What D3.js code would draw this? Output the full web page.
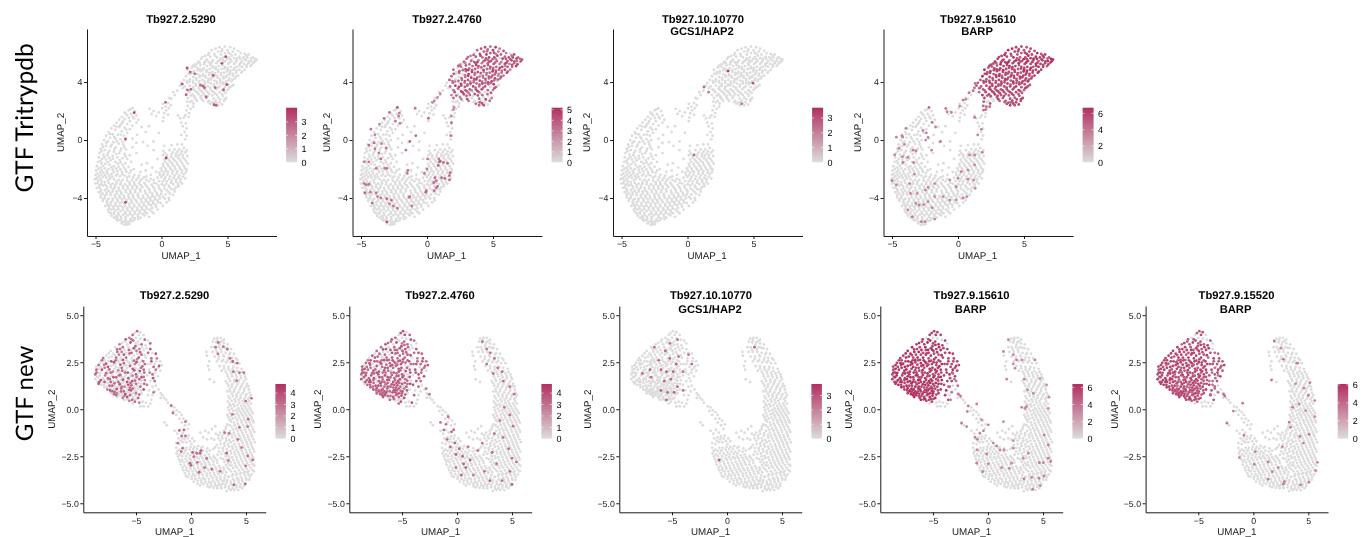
<!DOCTYPE html>
<html><head><meta charset="utf-8">
<script src="https://cdnjs.cloudflare.com/ajax/libs/d3/7.8.5/d3.min.js"></script>
<style>html,body{margin:0;padding:0;background:#fff}svg{display:block;filter:blur(.4px)}text{font-family:"Liberation Sans",Arial,sans-serif;text-rendering:geometricPrecision}</style>
</head><body><svg id="c" width="1366" height="537"></svg>
<script>
// ---------- cells shared by every panel of the top row (UMAP_1, UMAP_2 pairs)
const topLowerCells=[-2.2,2.2,-2.5,2.05,-2.0,2.0,-2.8,1.9,-2.3,1.8,-1.9,1.7,-2.6,1.7,-3.0,1.6,-2.1,1.5,-1.75,1.4,-2.8,1.45,-3.2,1.4,-2.4,1.3,-1.9,1.2,-3.4,1.2,-3.0,1.15,-2.6,1.1,-2.2,1.0,-3.6,1.0,-3.2,.9,-2.8,.85,-2.4,.75,-3.8,.8,-3.5,.7,-3.0,.6,-2.6,.5,-4.0,.55,-3.7,.4,-3.3,.35,-2.85,.3,-4.2,.3,-3.9,.15,-3.5,.1,-3.1,.05,-2.75,.0,-4.35,.0,-4.05,-.1,-3.65,-.15,-3.25,-.25,-2.9,-.3,-4.5,-.3,-4.2,-.4,-3.85,-.45,-3.45,-.5,-3.05,-.6,-2.7,-.65,-4.6,-.6,-4.3,-.7,-3.95,-.75,-3.6,-.8,-3.2,-.9,-2.8,-.95,-4.7,-.9,-4.4,-1.0,-4.1,-1.05,-3.7,-1.1,-3.35,-1.2,-2.95,-1.25,-2.6,-1.3,-4.75,-1.2,-4.5,-1.3,-4.2,-1.35,-3.85,-1.4,-3.5,-1.5,-3.1,-1.55,-2.75,-1.6,-4.8,-1.5,-4.55,-1.6,-4.25,-1.65,-3.95,-1.7,-3.6,-1.8,-3.25,-1.85,-2.85,-1.9,-2.5,-1.85,-4.9,-1.8,-4.6,-1.9,-4.3,-1.95,-4.0,-2.0,-3.7,-2.05,-3.35,-2.15,-3.0,-2.2,-2.65,-2.2,-2.3,-2.1,-4.95,-2.1,-4.65,-2.2,-4.4,-2.25,-4.1,-2.3,-3.8,-2.35,-3.45,-2.45,-3.15,-2.5,-2.8,-2.45,-2.45,-2.5,-2.05,-2.4,-1.7,-2.45,-5.0,-2.4,-4.75,-2.5,-4.45,-2.55,-4.2,-2.6,-3.9,-2.65,-3.6,-2.7,-3.25,-2.75,-2.95,-2.75,-2.6,-2.8,-2.25,-2.75,-1.9,-2.75,-1.5,-2.7,-1.15,-2.5,-5.05,-2.7,-4.8,-2.8,-4.55,-2.85,-4.3,-2.9,-4.0,-2.95,-3.7,-3.0,-3.4,-3.0,-3.1,-3.05,-2.75,-3.05,-2.4,-3.05,-2.05,-3.05,-1.7,-3.0,-1.3,-2.95,-.95,-2.85,-.6,-2.75,-5.0,-3.0,-4.7,-3.1,-4.45,-3.15,-4.15,-3.2,-3.85,-3.25,-3.55,-3.3,-3.25,-3.3,-2.9,-3.35,-2.55,-3.35,-2.2,-3.35,-1.85,-3.3,-1.45,-3.25,-1.1,-3.2,-.75,-3.1,-.4,-3.0,-4.9,-3.3,-4.6,-3.4,-4.3,-3.45,-4.0,-3.5,-3.7,-3.55,-3.4,-3.55,-3.05,-3.6,-2.7,-3.6,-2.35,-3.65,-2.0,-3.6,-1.6,-3.55,-1.25,-3.5,-.9,-3.45,-.55,-3.35,-.2,-3.3,-4.75,-3.6,-4.45,-3.7,-4.15,-3.75,-3.85,-3.8,-3.55,-3.8,-3.2,-3.85,-2.85,-3.85,-2.5,-3.9,-2.15,-3.9,-1.8,-3.85,-1.4,-3.85,-1.05,-3.8,-.7,-3.7,-.35,-3.65,0,-3.55,-4.6,-3.95,-4.3,-4.0,-4.0,-4.05,-3.7,-4.05,-3.35,-4.1,-3.0,-4.1,-2.65,-4.15,-2.3,-4.15,-1.95,-4.15,-1.55,-4.1,-1.2,-4.1,-.85,-4.0,-.5,-3.95,-.15,-3.85,-4.45,-4.2,-4.15,-4.3,-3.85,-4.3,-3.5,-4.35,-3.15,-4.35,-2.8,-4.4,-2.45,-4.4,-2.1,-4.45,-1.7,-4.4,-1.35,-4.35,-1.0,-4.3,-.65,-4.25,-.3,-4.15,-4.25,-4.55,-4.0,-4.55,-3.65,-4.6,-3.3,-4.6,-2.95,-4.65,-2.6,-4.7,-2.25,-4.7,-1.85,-4.7,-1.5,-4.65,-1.15,-4.6,-.8,-4.5,-.45,-4.45,-.05,-4.35,-4.05,-4.8,-3.8,-4.8,-3.45,-4.85,-3.1,-4.9,-2.75,-4.95,-2.4,-4.95,-2.0,-4.95,-1.65,-4.9,-1.3,-4.85,-.9,-4.8,-3.85,-5.05,-3.6,-5.1,-3.25,-5.15,-2.9,-5.15,-2.55,-5.2,-2.2,-5.2,-1.8,-5.15,-1.45,-5.1,-1.1,-5.05,-3.6,-5.35,-3.35,-5.35,-3.05,-5.4,-2.7,-5.45,-2.35,-5.45,-2.0,-5.4,-1.6,-5.35,-3.3,-5.55,-2.95,-5.65,-2.6,-5.65,-2.25,-5.6,-2.8,-5.85,-2.45,-5.8,-.95,-5.3,-.6,-5.05,-.3,-4.8,.1,-4.55,
.4,-4.3,.25,-4.05,.55,-4.0,.3,-3.75,.65,-3.7,1.0,-3.55,.4,-3.45,.75,-3.4,1.1,-3.25,.2,-3.15,.55,-3.15,.9,-3.05,1.25,-3.05,1.55,-3.0,.1,-2.85,.4,-2.85,.75,-2.8,1.1,-2.75,1.45,-2.7,1.8,-2.65,-.3,-2.6,.0,-2.55,.3,-2.55,.65,-2.5,1.0,-2.45,1.35,-2.45,1.7,-2.35,-.15,-2.25,.2,-2.25,.5,-2.2,.85,-2.15,1.2,-2.15,1.55,-2.1,1.9,-2.05,-.05,-1.95,.3,-1.95,.65,-1.9,1.0,-1.85,1.35,-1.85,1.7,-1.8,.1,-1.65,.45,-1.65,.8,-1.6,1.15,-1.55,1.5,-1.5,1.85,-1.45,.2,-1.35,.55,-1.35,.9,-1.3,1.25,-1.25,1.6,-1.2,1.95,-1.1,.1,-1.05,.4,-1.05,.75,-1.0,1.1,-.95,1.45,-.95,1.8,-.85,.15,-.75,.6,-.7,1.0,-.65,1.35,-.65,1.7,-.55,.2,-.4,.75,-.35,1.2,-.3,1.55,-.3,
-2.3,-1.5,-2.1,-2.0,-1.6,-2.2,-1.2,-2.1,-.8,-2.4,-.4,-2.2,-2.4,-1.05,-2.2,-.5,-1.9,-.9,-1.5,-1.7,-1.1,-1.6,-.7,-1.9,-2.2,.1,-1.85,.35,-1.4,-.15,-1.05,-.4,-.6,-.7,-.3,-1.3,-1.9,-.2,-1.2,.55,-1.5,.9,-.95,.95,-.6,-.1,-.2,.5,-.9,2.15,-.6,2.0,-.75,1.8,-.4,1.65,-.2,1.9,.1,2.5,.3,2.3,.05,2.2,.35,2.05,.55,2.2,.7,2.4,.2,1.85,.5,1.75,.15,1.55,.1,1.3,.5,2.55,.75,2.85,1.0,3.1,1.2,3.4,.9,3.3,.6,2.9,1.4,1.5,1.25,1.7,1.7,1.55,1.5,1.2,1.85,1.15,1.6,.95,1.9,.8,1.75,.55,1.5,.35,1.9,.3,1.8,.05,2.0,2.35,2.2,2.15,1.9,2.05,2.1,1.85,2.4,2.3,1.8,1.7,2.05,1.6];
const topLowerInfill=[-2.36,2.12,-2.71,1.82,-2.18,1.62,-2.92,1.28,-2.47,1.52,-3.12,1.02,-2.68,.72,-3.42,.93,-3.08,.38,-3.58,.22,-3.92,.42,-2.95,-.12,-3.38,-.08,-3.77,-.32,-4.18,-.18,-4.42,-.48,-3.57,-.62,-3.12,-.75,-2.82,-.48,-4.05,-.88,-4.55,-.78,-3.43,-.97,-2.72,-1.12,-3.15,-1.38,-3.95,-1.23,-4.33,-1.18,-4.62,-1.45,-3.67,-1.28,-3.32,-1.62,-2.95,-1.72,-4.08,-1.52,-4.42,-1.78,-3.78,-1.87,-3.45,-1.98,-3.12,-2.03,-2.72,-2.05,-4.78,-1.98,-4.15,-2.13,-2.42,-2.27,-3.62,-2.22,-4.52,-2.07,-4.85,-2.32,-3.97,-2.48,-3.32,-2.35,-2.97,-2.37,-2.15,-2.58,-4.58,-2.38,-4.28,-2.43,-3.73,-2.53,-2.62,-2.6,-1.78,-2.62,-1.33,-2.58,-4.9,-2.62,-4.63,-2.68,-4.05,-2.78,-3.42,-2.87,-3.08,-2.88,-2.42,-2.92,-2.08,-2.9,-1.62,-2.85,-1.15,-2.75,-.82,-2.68,-4.85,-2.97,-4.55,-3.02,-4.28,-3.08,-3.85,-3.1,-3.52,-3.15,-2.92,-3.18,-2.58,-3.2,-2.22,-3.2,-1.9,-3.18,-1.55,-3.12,-1.22,-3.07,-.58,-2.95,-4.72,-3.27,-4.15,-3.35,-3.68,-3.4,-3.2,-3.47,-2.72,-3.47,-2.38,-3.5,-1.98,-3.45,-1.62,-3.4,-.98,-3.33,-.63,-3.23,-.22,-3.15,-4.58,-3.55,-4.17,-3.62,-3.87,-3.65,-3.38,-3.7,-3.03,-3.73,-2.52,-3.75,-2.18,-3.78,-1.78,-3.72,-1.2,-3.67,-.87,-3.6,-.48,-3.52,-.08,-3.42,-4.62,-3.78,-4.3,-3.85,-3.5,-3.95,-3.15,-3.97,-2.82,-4.0,-2.45,-4.03,-2.1,-4.02,-1.72,-3.98,-1.38,-3.97,-1.02,-3.95,-.68,-3.87,-.32,-3.8,-4.42,-4.07,-4.12,-4.15,-3.72,-4.2,-3.32,-4.23,-2.98,-4.27,-2.62,-4.28,-2.25,-4.3,-1.88,-4.28,-1.52,-4.25,-1.17,-4.22,-.83,-4.15,-.5,-4.1,-.12,-4.02,-4.08,-4.43,-3.82,-4.47,-3.48,-4.5,-3.12,-4.52,-2.77,-4.55,-2.42,-4.58,-2.05,-4.58,-1.68,-4.53,-1.33,-4.5,-.97,-4.43,-.62,-4.37,-.25,-4.3,-3.95,-4.68,-3.62,-4.73,-3.27,-4.75,-2.92,-4.8,-2.57,-4.83,-2.2,-4.83,-1.83,-4.82,-1.47,-4.78,-1.12,-4.73,-.72,-4.68,-.42,-4.6,-4.0,-4.95,-3.6,-4.97,-3.28,-5.02,-2.72,-5.07,-2.38,-5.1,-2.03,-5.08,-1.65,-5.03,-1.25,-4.98,-.75,-4.93,-3.78,-5.22,-3.42,-5.25,-3.08,-5.28,-2.73,-5.32,-2.18,-5.33,-1.78,-5.28,-1.3,-5.2,-3.42,-5.47,-3.12,-5.53,-2.78,-5.58,-2.43,-5.62,-2.08,-5.52,-1.75,-5.45,-3.02,-5.75,-2.62,-5.83,-2.7,-5.72,
.58,-4.15,.12,-3.92,.88,-3.78,.52,-3.58,-.02,-3.72,.22,-3.35,.97,-3.38,.62,-3.27,1.28,-3.18,.02,-3.05,.35,-3.02,.72,-2.95,1.12,-2.9,1.42,-2.87,-.18,-2.83,.22,-2.7,.58,-2.68,.92,-2.62,1.28,-2.6,1.62,-2.52,-.12,-2.42,.12,-2.4,.45,-2.38,.82,-2.32,1.15,-2.3,1.52,-2.27,1.85,-2.22,.03,-2.12,.35,-2.1,.72,-2.03,1.05,-2.0,1.4,-1.98,1.78,-1.95,.15,-1.82,.52,-1.78,.88,-1.75,1.22,-1.7,1.6,-1.65,1.98,-1.62,.28,-1.5,.65,-1.48,1.0,-1.42,1.4,-1.37,1.75,-1.3,.4,-1.2,.72,-1.17,1.08,-1.1,1.3,-1.08,1.62,-1.02,.25,-.92,.85,-.85,1.22,-.8,1.55,-.78,1.92,-.72];
const topUpperCells=[
4.4,6.4,4.8,6.45,5.2,6.4,5.5,6.3,4.1,6.3,4.6,6.25,5.0,6.2,5.4,6.1,5.8,6.15,3.8,6.2,
4.3,6.1,4.8,6.0,5.2,5.95,3.6,6.0,4.0,5.95,4.5,5.9,5.6,5.9,6.0,6.0,6.3,5.95,6.6,5.9,
3.3,5.8,3.7,5.75,4.2,5.7,4.7,5.7,5.1,5.7,5.5,5.65,5.9,5.75,6.2,5.7,6.5,5.7,6.9,5.7,
3.0,5.6,3.45,5.55,3.9,5.5,4.4,5.5,4.85,5.45,5.3,5.45,5.7,5.5,6.1,5.45,6.4,5.5,6.8,5.45,
7.2,5.55,7.0,5.35,6.6,5.3,6.25,5.25,5.9,5.25,5.5,5.25,5.05,5.25,4.6,5.3,4.15,5.3,3.7,5.3,
3.25,5.35,2.8,5.4,2.5,5.2,2.95,5.15,3.45,5.1,3.9,5.1,4.35,5.1,4.8,5.05,5.25,5.05,5.7,5.05,
6.1,5.05,6.45,5.05,6.75,5.1,6.3,4.85,5.9,4.85,5.45,4.85,5.0,4.85,4.55,4.9,4.1,4.9,3.65,4.9,
3.2,4.95,2.75,4.95,2.3,5.0,2.0,4.85,2.45,4.75,2.95,4.75,3.4,4.7,3.85,4.7,4.3,4.7,4.75,4.65,
5.2,4.65,5.65,4.65,6.05,4.65,5.8,4.45,5.4,4.45,4.95,4.45,4.5,4.5,4.05,4.5,3.6,4.5,3.15,4.55,
2.7,4.55,2.2,4.55,1.85,4.4,2.4,4.35,2.9,4.35,3.35,4.3,3.8,4.3,4.25,4.3,4.7,4.25,5.15,4.25,
5.55,4.25,5.3,4.05,4.9,4.05,4.45,4.1,4.0,4.1,3.55,4.1,3.1,4.15,2.65,4.15,2.15,4.2,1.7,4.15,
1.5,3.95,1.95,3.95,2.4,3.95,2.85,3.95,3.3,3.9,3.75,3.9,4.2,3.9,4.65,3.85,5.05,3.85,5.45,3.8,
5.2,3.65,4.8,3.65,4.4,3.7,3.95,3.7,3.5,3.7,3.05,3.75,2.6,3.75,2.15,3.75,1.75,3.7,1.4,3.75,
1.9,3.5,2.35,3.55,2.8,3.55,3.25,3.5,3.7,3.5,4.15,3.5,4.6,3.45,5.0,3.45,4.85,3.25,4.4,3.3,
3.95,3.3,3.5,3.3,3.05,3.35,2.6,3.35,2.1,3.3,1.85,3.1,2.35,3.15,2.8,3.15,3.25,3.1,4.2,3.1,
4.65,3.05,4.9,2.9,3.4,2.9,2.95,2.95,2.5,2.95,2.0,2.9,1.95,2.65,2.3,2.7,2.7,2.7,3.15,2.7,
3.6,2.7,3.95,2.85,4.45,2.8,4.75,2.7,4.4,2.6,4.0,2.6,3.7,2.5,3.95,2.4,4.3,2.4,4.6,2.45,
4.55,6.12,5.07,6.03,5.33,5.82,4.47,5.63,3.57,5.38,4.97,5.58,5.73,5.62,6.32,5.57,6.62,5.42,7.05,5.6,
2.68,5.27,3.22,5.22,3.72,5.17,4.12,5.02,4.62,5.17,5.02,4.97,5.52,4.98,5.92,5.12,6.12,4.72,5.67,4.78,
5.22,4.78,4.77,4.93,4.28,4.83,3.87,4.98,3.42,4.82,2.93,4.88,2.57,5.07,2.22,4.68,2.72,4.82,3.13,4.83,
3.62,4.63,4.07,4.62,4.52,4.62,4.97,4.73,5.42,4.57,5.62,4.37,5.13,4.52,4.68,4.38,4.23,4.42,3.78,4.58,
3.33,4.42,2.88,4.47,2.43,4.63,2.03,4.57,2.62,4.27,3.12,4.43,3.57,4.22,3.98,4.38,4.43,4.22,4.87,4.33,
5.37,4.17,5.08,4.12,4.63,3.98,4.18,4.02,3.73,4.18,3.28,4.03,2.87,4.07,2.38,4.08,1.93,4.07,3.53,3.98,
3.07,3.83,2.58,3.87,2.13,4.03,3.98,3.82,4.43,3.93,4.83,3.93,2.42,3.67,2.87,3.67,3.23,3.78,3.68,3.62,
3.1,5.72,3.53,5.87,4.05,5.82,4.62,5.53,5.22,5.58,5.97,5.6,6.42,5.82,6.78,5.62,7.1,5.43,6.85,5.22,
6.45,5.18,6.02,5.33,5.62,5.37,5.17,5.35,4.72,5.4,4.27,5.42,3.82,5.38,3.35,5.47,2.9,5.32,2.38,5.12,
1.62,3.58,2.02,3.43,2.47,3.47,2.92,3.42,3.38,3.42,3.82,3.38,4.27,3.62,4.72,3.37,5.1,3.58,5.32,3.72,
4.58,3.17,4.08,3.2,3.62,3.17,3.17,3.23,2.72,3.27,2.22,3.07,2.48,3.02,3.0,3.05,3.48,3.03,3.85,3.08,
4.3,2.92,4.78,2.82,4.12,2.72,3.82,2.58,4.18,2.52,3.53,2.62,3.05,2.82,2.6,2.82,2.17,2.62,2.43,2.52];
// expression of the upper cells, one digit per cell per line (0 none … 9 gene maximum)
const topGene2Upper=["7685768576","6750786507","5768806786","6058760786","7065857657","0657687868","7685868606","5006768756","7685575068","0060687568","6085867607","0605868680","6075867860","0607886570","6068750766","0500560005","0686076670","6787768776","0686768576","7685786068","6768576760","0567687576","7686857666","6857668706","6786576878","7856768657","0607586070","6075860607","0000707500"];
const topGene4Upper=["8878987879","8798878978","8897889887","8879898789","9878988989","8987898887","9878889788","8879887887","8898787888","7898887888","8988788777","7788887877","8788878877","7877889778","8788798878","7877087006","7887878878","8897899889","8988789898","9888987788","8789878887","7888798878","8879887887","7887788878","8978898798","8889789878","7788878787","7878877887","7887878007"];
// sparse expressing cells of the top row: UMAP_1, UMAP_2, expression
const topGene1Sparse=[4.87,5.75,3.6,4.57,5.29,3.2,1.94,4.97,3.4,2.17,4.69,3,2.53,4.57,2.6,3.91,4.46,3.2,1.57,3.86,3.4,2.95,3.79,2.6,3.13,3.72,3,3.26,3.61,3.2,4.07,3.61,2.8,4.95,3.82,3.5,4.7,3.47,3,1.97,3.45,2.6,2.22,3.49,2.8,1.87,3.13,3,3.38,2.97,3,3.99,2.44,3.2,4.14,2.39,3.2,.3,2.6,3,-2.07,1.89,3.6,-2.73,.07,3.4,.35,-1.24,3.8,-2.73,-4.3,3.6];
const topGene2Sparse=[-2.25,2.25,4,-2.85,1.9,3,-2.1,1.85,3,-2.15,1.65,3,-3.25,1.5,3.4,-2.4,1.3,3,-2.05,1.15,3,-3.6,1.1,2.5,-4.25,.75,3,-3.95,.35,2.6,-.85,.3,3.4,-1.3,-.1,3.6,-.9,2.2,3,.1,1.5,3.4,-4.4,-.35,3.4,-3.95,-.6,3,-3.1,-.55,3.2,-3.45,-.25,3,-4,-.2,3.4,-3.5,-1.3,3.4,-3.65,-.9,3,-4.75,-1.5,3,-4.4,-1.5,3,-3.85,-1.95,3.2,-3.05,-1.95,3.6,-3.2,-1.95,3,-1.6,-.7,3,-1.45,-2.1,3.4,-1.5,-2.3,3,-.2,-2.3,3,0,-2,3,.05,-1.3,3,1,-1.45,3.6,.95,-1.5,4,.85,-1.75,3.6,1.25,-1.55,3.4,1.55,-1.6,3.4,.9,-1.3,3,.6,-2.6,3.4,.7,-2.8,3,1.1,-2.6,3.4,1.35,-2.65,3.4,1.7,-2.75,3.4,1.75,-2.25,3.6,1.7,-2.45,3.4,.8,-3.2,3.4,.5,-2.95,3,.7,-3.3,3.2,.55,-2.9,3,-.05,-3.5,3.4,-.1,-3.6,3.4,.55,-3.5,3.2,-4.75,-3,3.2,-4.6,-3.1,3,-4.4,-3.05,3.2,-4.7,-3.65,3.6,-4.3,-3.6,3,-3.85,-3.65,3.2,-3.75,-3.9,3,-3.5,-4,3,-4.15,-4.35,3.4,-3.05,-4.05,3.4,-2.7,-4.15,3.4,-2.85,-4.4,3,-2.55,-4.55,3,-2.25,-4.7,3,-1.35,-3.95,3.2,-1.15,-4.55,3,-1.3,-3.9,3,-3.05,-5.65,4,1.8,.3,3.2,1.85,1.2,3.6,1.85,1.65,2.6,2,2.1,2.6,2.05,2.25,2.6,.4,2.6,2.6,.55,2.7,2.6,1,3.2,2.6,.8,2.95,2.6];
const topGene3Sparse=[3.07,4.76,3.4,4.96,3.93,3,1.25,3.66,2.6,.5,-1.03,2.6,1.6,3.3,2.2,4.1,2.5,2.2];
const topGene4Sparse=[-2.2,2.25,4.4,-1.97,1.22,4,-1.7,.9,3.6,-3.95,.8,3.6,-2.65,.65,3.6,-2.4,.5,3.6,-4.25,.3,3.6,-4.67,.2,3.6,-4.2,.2,3.6,-2.27,.18,3.6,-1.33,-.1,4,-2.45,0,3.4,-4.05,-.3,3.4,-4.47,-.57,3.4,-3.4,-.7,3.6,-3.2,-.74,3.4,-2,-.7,3.4,-4.2,-1.15,3.4,-3.8,-1.2,3.6,-4.8,-1.03,3.6,-4.17,-1.55,3.6,-3.36,-1.55,3.6,-3.3,-2.35,3.4,-5,-2.8,3.8,-3.66,-3,3.6,-4.67,-3.1,3.4,-1.77,-3,3.4,-2.47,-3.45,3.6,-2.27,-3.27,3.4,-3.6,-3.68,3.6,-3.1,-3.68,3.2,-1.77,-3.9,3.2,-3.8,-4.83,3.6,-3.47,-5.3,4,-2.78,-5.63,3.6,-2.5,-5.63,3.4,-1.77,-5.45,3.4,-3.2,-4.37,3.4,-2.95,-4.48,3.6,-2.6,-4.46,3.4,-2.27,-4.25,3.4,-1.97,-4.67,3.4,-1.14,-3.9,3.4,-.63,-4.14,3.4,-.13,-4.14,3.4,.38,-4,3.6,.68,-3.9,3.4,-.63,-2.76,3.4,0,-2.64,3.6,-.13,-3.22,3.6,.76,-2.7,3.6,1.19,-2.76,3.4,1.3,-3.33,3.4,.25,-2.18,3.6,.76,-2.07,3.4,1.26,-1.72,3.4,.88,-1.03,3.6,1.26,-1.03,3.4,1.84,-.85,3.6,-.93,2.18,4,-.83,1.95,3.6,-.5,1.9,3.6,1.26,1.56,4,1.77,.74,3.6,1.5,.35,3.2,.13,2.34,3.2,.38,2.76,4,.58,2.8,3.6,.83,3.26,4,1.14,3.4,4,1.94,2.07,4.4,2.1,2.1,4.4,2.15,2.3,4.4,1.9,2.35,4.4,2.4,2.3,4.4,1.3,3.9,4.4,1.25,3.6,4.4,1.6,3.3,4.4];

// ---------- cells shared by every panel of the bottom row
const botLeftCells=[
-4.9,4.15,-4.6,4.1,-4.3,3.95,-5.3,3.95,-5.6,3.8,-5.0,3.8,-4.6,3.75,-4.2,3.7,-3.9,3.65,-3.7,3.5,
-6.0,3.6,-5.5,3.55,-5.0,3.5,-4.5,3.45,-4.15,3.4,-6.5,3.45,-6.9,3.3,-6.2,3.3,-5.7,3.3,-5.2,3.25,
-4.7,3.2,-4.3,3.15,-3.9,3.0,-3.5,3.0,-3.2,2.95,-7.3,3.1,-6.7,3.05,-6.3,3.05,-5.9,3.0,-5.4,3.0,
-4.9,2.95,-4.5,2.9,-4.1,2.75,-3.6,2.7,-3.1,2.7,-2.8,2.55,-7.7,2.85,-7.2,2.8,-6.8,2.75,-6.4,2.75,
-5.9,2.75,-5.4,2.7,-4.9,2.65,-4.5,2.6,-8.1,2.6,-7.5,2.55,-7.0,2.5,-6.6,2.5,-6.1,2.45,-5.6,2.45,
-5.1,2.4,-4.7,2.35,-4.2,2.4,-3.7,2.4,-3.3,2.4,-2.9,2.3,-2.65,2.35,-8.4,2.35,-7.9,2.35,-7.3,2.3,
-6.8,2.25,-6.3,2.2,-5.8,2.2,-5.3,2.15,-4.8,2.1,-4.3,2.1,-3.8,2.1,-3.2,2.1,-2.8,2.05,-8.6,2.1,
-8.1,2.1,-7.6,2.05,-7.1,2.0,-6.5,1.95,-6.0,1.95,-5.5,1.9,-5.0,1.85,-4.5,1.85,-4.0,1.8,-3.5,1.85,
-3.0,1.75,-8.7,1.85,-8.3,1.8,-7.8,1.8,-7.3,1.75,-6.8,1.7,-6.3,1.7,-5.7,1.65,-5.2,1.6,-4.7,1.6,
-4.2,1.55,-3.7,1.5,-3.3,1.5,-8.7,1.6,-8.2,1.55,-7.6,1.55,-7.1,1.5,-6.6,1.45,-6.1,1.45,-5.5,1.4,
-5.0,1.35,-4.5,1.35,-4.0,1.3,-3.5,1.2,-8.4,1.35,-7.9,1.3,-7.4,1.25,-6.9,1.25,-6.3,1.2,-5.8,1.15,
-5.3,1.1,-4.8,1.1,-4.3,1.05,-3.8,1.0,-7.6,1.05,-7.1,1.0,-6.6,.95,-6.1,.95,-5.6,.9,-5.0,.85,
-4.5,.85,-3.9,.75,-7.3,.85,-6.8,.75,-6.3,.7,-5.8,.65,-5.3,.65,-4.8,.6,-6.1,.5,-5.6,.45,
-5.1,.4,-5.3,.3,-4.7,.35,-4.4,.4,-4.1,.35,-4.3,.15,-3.9,.15,-3.7,.3,-4.6,.15,-3.6,.5,
-4.75,3.95,-5.25,3.65,-4.8,3.6,-5.8,3.45,-6.45,3.2,-5.45,3.15,-4.95,3.1,-7.05,2.95,-6.1,2.9,-5.2,2.85,
-7.85,2.6,-7.25,2.55,-6.35,2.6,-5.35,2.55,-4.35,2.55,-8.2,2.25,-7.55,2.25,-6.55,2.2,-5.55,2.3,-5.05,2.2,
-8.45,1.95,-7.3,1.95,-6.75,1.95,-5.75,1.95,-4.75,1.95,-4.25,1.95,-8.0,1.65,-7.05,1.7,-6.05,1.7,-4.95,1.7,
-8.5,1.45,-7.85,1.45,-6.85,1.45,-5.8,1.45,-5.25,1.4,-4.25,1.35,-8.15,1.3,-7.15,1.25,-6.6,1.2,-6.05,1.2,
-5.55,1.15,-5.05,1.1,-7.35,1.0,-6.85,1.0,-6.35,.95,-5.85,.9,-5.25,.85,-7.0,.8,-6.55,.75,-6.05,.7,
-5.05,3.35,-4.45,3.3,-5.65,3.15,-6.05,3.15,-6.55,2.9,-5.65,2.9,-4.75,2.75,-7.45,2.75,-6.85,2.6,-5.85,2.6,
-4.95,2.5,-7.95,2.45,-7.05,2.35,-6.05,2.3,-4.55,2.2,-8.4,2.15,-7.85,2.2,-6.95,2.15,-6.25,2.05,-5.3,2.0,
-8.6,1.95,-7.55,1.9,-6.55,1.8,-5.5,1.75,-4.5,1.7,-8.45,1.7,-7.55,1.65,-6.35,1.55,-5.35,1.5,-4.75,1.4,
-8.0,1.45,-7.3,1.45,-6.3,1.4,-5.7,1.3,-5.15,1.2,-4.6,1.2,-7.65,1.2,-6.95,1.1,-6.35,1.1,-5.75,1.0,
-5.45,1.0,-4.95,.95,-7.15,.95,-4.55,1.0,-6.75,.85,-6.25,.82,-5.55,.75,-5.05,.72,-5.35,.5,-5.85,.52,
-3.6,2.55,-3.15,2.55,-3.4,2.25,-3.0,2.2,-3.75,1.95,-3.25,1.95,-4.05,3.25,-3.7,3.2,-3.95,2.4,-3.45,1.65,
-5.12,4.05,-5.42,3.72,-4.78,3.42,-5.93,3.72,-6.27,3.52,-6.72,3.18,-5.08,3.17,-5.58,2.97,-6.92,2.88,-7.48,2.97,
-4.62,3.03,-4.22,2.87,-7.98,2.72,-6.62,2.62,-6.18,2.62,-5.72,2.52,-5.18,2.58,-4.68,2.48,-7.72,2.42,-8.28,2.47,
-6.88,2.42,-6.42,2.37,-5.88,2.35,-5.42,2.37,-4.42,2.28,-8.62,2.27,-7.42,2.12,-6.62,2.07,-5.95,2.08,-5.15,2.07,
-4.65,2.03,-8.25,1.93,-7.72,1.92,-7.15,1.85,-6.42,1.82,-5.92,1.82,-5.32,1.78,-4.85,1.78,-4.3,1.72,-8.55,1.72,
-7.92,1.55,-7.38,1.6,-6.75,1.58,-6.18,1.57,-5.62,1.55,-5.08,1.52,-4.52,1.52,-8.33,1.45,-7.58,1.4,-6.97,1.38,
-6.48,1.33,-5.93,1.32,-5.42,1.27,-4.88,1.25,-7.87,1.17,-7.3,1.12,-6.75,1.08,-6.17,1.05,-5.62,1.03,-5.12,.98,
-6.95,.92,-6.48,.85,-5.97,.8,-5.42,.82,-4.7,.78,-6.72,.65,-6.2,.6,-5.72,.55,-5.18,.55,-4.95,.55];
const botRightCells=[-3.2,1.25,-2.95,1.05,-3.3,.95,-2.75,.85,-2.6,.75,-2.45,.6,-2.25,.5,-2.75,.6,-2.1,.35,-3.5,.75,-1.75,.15,-1.5,.1,-1.6,-.1,-1.3,-.05,-1.05,-.15,-1.35,-.3,-.85,-.3,-1.05,-.5,-.7,-.5,-.45,-.6,-.85,-.7,-.55,-.85,-.2,-.8,-.3,-1.05,-2.4,-.7,-2.2,-.85,-1.5,-1.15,-1.25,-1.3,-1.0,-1.1,-.75,-1.25,-1.15,-1.55,-.85,-1.5,-.55,-1.45,-.2,-1.4,-1.35,-1.8,-1.05,-1.85,-.75,-1.75,-.45,-1.75,-.1,-1.7,.3,-1.7,-1.35,-2.05,-1.05,-2.15,-.7,-2.05,-.4,-2.05,-.05,-2.0,.3,-2.0,.65,-1.95,-1.3,-2.35,-1.0,-2.4,-.65,-2.35,-.3,-2.35,.05,-2.3,.4,-2.25,.75,-2.25,1.1,-2.2,-1.1,-2.65,-.8,-2.7,-.5,-2.65,-.15,-2.6,.2,-2.55,.55,-2.55,.9,-2.5,1.25,-2.45,1.6,-2.4,-.95,-2.95,-.6,-3.0,-.25,-2.9,.1,-2.85,.45,-2.85,.8,-2.8,1.15,-2.75,1.5,-2.7,1.85,-2.65,2.2,-2.6,-.7,-3.25,-.4,-3.25,-.05,-3.15,.3,-3.15,.65,-3.1,1.0,-3.05,1.35,-3.0,1.7,-2.95,2.05,-2.95,2.4,-2.85,-.45,-3.55,-.15,-3.45,.2,-3.45,.55,-3.4,.9,-3.35,1.25,-3.3,1.6,-3.25,1.95,-3.25,2.3,-3.2,2.65,-3.15,.05,-3.7,.4,-3.7,.75,-3.65,1.1,-3.65,1.45,-3.55,1.8,-3.55,2.15,-3.5,2.5,-3.45,2.85,-3.4,3.2,-3.35,.6,-3.95,.95,-3.9,1.3,-3.85,1.65,-3.85,2.0,-3.8,2.35,-3.75,2.7,-3.7,3.05,-3.65,3.4,-3.6,3.75,-3.55,4.1,-3.5,4.45,-3.45,4.8,-3.4,5.15,-3.35,1.5,-4.1,1.85,-4.05,2.2,-4.05,2.55,-4.0,2.9,-3.95,3.25,-3.9,3.6,-3.85,3.95,-3.8,4.3,-3.75,4.65,-3.7,5.0,-3.65,5.35,-3.6,2.4,-4.2,2.75,-4.2,3.1,-4.15,3.45,-4.1,3.8,-4.05,4.15,-4.05,4.5,-4.0,4.85,-3.95,3.25,-4.35,3.6,-4.3,3.95,-4.3,4.3,-4.3,4.65,-4.2,
5.7,-3.3,5.75,-3.0,5.4,-3.1,5.05,-3.15,4.7,-3.2,4.35,-3.25,4.0,-3.3,3.65,-3.3,3.3,-3.1,2.95,-3.1,5.45,-2.8,5.1,-2.85,4.75,-2.9,4.4,-2.95,4.05,-3.0,3.7,-3.0,3.35,-2.85,3.05,-2.8,2.7,-2.6,5.6,-2.55,5.25,-2.55,4.9,-2.6,4.55,-2.65,4.2,-2.7,3.85,-2.7,3.5,-2.6,3.15,-2.5,2.55,-2.25,5.75,-2.25,5.4,-2.3,5.05,-2.3,4.7,-2.35,4.35,-2.4,4.0,-2.4,3.65,-2.35,3.3,-2.25,2.9,-2.2,5.55,-2.0,5.2,-2.0,4.85,-2.05,4.5,-2.1,4.15,-2.15,3.8,-2.1,3.45,-2.0,3.05,-1.95,2.7,-1.85,2.35,-1.9,5.8,-1.75,5.4,-1.75,5.05,-1.75,4.7,-1.8,4.35,-1.85,3.95,-1.85,3.6,-1.75,3.2,-1.7,2.85,-1.55,2.5,-1.55,5.55,-1.45,5.2,-1.5,4.85,-1.5,4.5,-1.55,4.1,-1.55,3.75,-1.5,3.35,-1.4,3.0,-1.3,2.65,-1.25,2.25,-1.3,5.75,-1.2,5.4,-1.2,5.0,-1.2,4.65,-1.25,4.3,-1.3,3.9,-1.25,3.55,-1.15,3.15,-1.05,1.85,-1.55,1.45,-1.6,5.55,-.95,5.2,-.95,4.85,-.95,4.45,-1.0,4.1,-1.0,3.7,-.95,3.3,-.8,1.9,-1.05,1.3,-1.15,1.6,-1.25,5.7,-.7,5.35,-.7,5.0,-.7,4.6,-.7,4.25,-.75,3.9,-.7,3.5,-.55,2.2,-.9,.85,-1.25,1.1,-1.5,5.5,-.45,5.15,-.45,4.8,-.45,4.4,-.45,4.05,-.45,3.65,-.35,3.3,-.3,5.6,-.2,5.25,-.2,4.9,-.2,4.55,-.2,4.2,-.2,3.85,-.1,3.45,-.05,5.35,.05,5.0,.05,4.65,.05,4.3,.05,3.95,.15,3.6,.2,5.45,.3,5.1,.3,4.75,.3,4.4,.35,4.05,.4,3.7,.45,3.35,.4,5.2,.55,4.85,.55,4.5,.6,4.15,.65,3.8,.7,3.4,.7,5.45,.75,5.05,.8,4.7,.85,4.3,.9,3.9,.95,3.55,.95,3.3,.95,5.25,1.05,4.85,1.1,4.5,1.15,4.1,1.2,3.7,1.2,3.4,1.25,5.1,1.35,4.7,1.35,4.3,1.45,3.95,1.45,3.55,1.5,3.15,1.5,5.0,1.6,4.55,1.65,4.15,1.7,3.75,1.75,3.35,1.75,4.85,1.85,4.4,1.9,4.0,1.95,3.6,2.0,3.15,2.0,2.8,2.05,4.6,2.15,4.2,2.2,3.85,2.25,3.4,2.25,3.0,2.3,2.6,2.3,4.4,2.45,4.0,2.45,3.6,2.5,3.2,2.5,2.8,2.55,2.35,2.55,4.1,2.7,3.75,2.75,3.4,2.75,3.0,2.8,2.55,2.8,2.15,2.8,3.9,2.95,3.55,3.0,3.15,3.0,2.75,3.05,2.35,3.05,1.95,3.05,3.65,3.2,3.3,3.25,2.9,3.3,2.55,3.3,2.15,3.3,1.85,3.3,3.35,3.45,3.0,3.5,2.65,3.55,2.3,3.55,2.0,3.6,3.0,3.7,2.7,3.8,2.4,3.8,2.1,3.75,1.4,3.05,1.65,2.55,1.7,1.6,1.65,2.1,1.45,2.85,1.55,2.3,2.1,1.45];
const botRightInfill=[2.35,3.67,2.82,3.62,2.58,3.42,3.12,3.27,2.72,3.18,2.27,3.17,3.48,2.92,2.93,2.88,2.5,2.67,2.92,2.62,3.35,2.62,3.75,2.58,4.23,2.62,3.02,2.17,3.42,2.12,3.78,2.12,4.22,2.03,4.68,1.98,3.28,1.88,3.68,1.87,4.08,1.83,4.52,1.77,4.92,1.72,3.48,1.62,3.93,1.58,4.38,1.55,4.82,1.48,5.22,1.22,3.28,1.38,3.75,1.33,4.22,1.33,4.6,1.25,5.02,1.22,3.52,1.08,3.95,1.07,4.42,1.03,4.82,.97,5.33,.88,3.72,.83,4.13,.78,4.52,.73,4.95,.68,5.33,.62,3.52,.58,3.97,.53,4.33,.5,4.68,.45,5.28,.42,3.5,.28,3.85,.27,4.22,.22,4.55,.18,4.88,.17,5.22,.18,3.38,.1,3.72,.03,4.1,-.05,4.42,-.08,4.78,-.08,5.12,-.08,5.48,-.07,3.55,-.2,3.98,-.28,4.32,-.33,4.68,-.32,5.02,-.33,5.38,-.32,3.4,-.42,3.78,-.5,4.2,-.58,4.55,-.58,4.88,-.58,5.25,-.58,5.6,-.58,3.62,-.65,3.98,-.85,4.35,-.87,4.72,-.83,5.08,-.83,5.43,-.83,3.18,-.92,3.5,-.85,3.85,-1.08,4.22,-1.13,4.55,-1.12,4.92,-1.08,5.28,-1.08,5.65,-1.08,2.98,-1.15,3.38,-1.27,3.72,-1.37,4.02,-1.4,4.4,-1.42,4.75,-1.38,5.12,-1.37,5.48,-1.33,2.48,-1.38,2.82,-1.42,3.18,-1.55,3.48,-1.63,3.85,-1.68,4.22,-1.7,4.6,-1.68,4.95,-1.63,5.3,-1.62,5.68,-1.6,2.12,-1.62,2.68,-1.68,3.03,-1.82,3.38,-1.87,3.72,-1.97,4.08,-2.0,4.42,-1.97,4.78,-1.93,5.12,-1.88,5.48,-1.87,2.18,-2.03,2.55,-2.05,2.88,-2.07,3.25,-2.12,3.6,-2.22,3.95,-2.27,4.28,-2.28,4.62,-2.22,4.97,-2.17,5.32,-2.15,5.65,-2.12,2.42,-2.42,2.75,-2.37,3.08,-2.35,3.42,-2.48,3.75,-2.55,4.12,-2.55,4.48,-2.52,4.82,-2.47,5.17,-2.43,5.52,-2.42,2.92,-2.65,3.22,-2.68,3.62,-2.83,3.97,-2.85,4.32,-2.82,4.65,-2.77,5.0,-2.72,5.35,-2.67,5.7,-2.67,3.18,-2.97,3.5,-2.97,3.85,-3.13,4.2,-3.1,4.55,-3.07,4.92,-3.02,5.25,-2.97,5.6,-2.93,3.48,-3.2,3.8,-3.45,4.15,-3.42,4.52,-3.38,4.88,-3.32,5.22,-3.28,5.55,-3.22,3.0,-3.23,2.78,-3.3,3.12,-3.5,3.45,-3.6,3.82,-3.72,4.18,-3.65,4.52,-3.6,4.9,-3.52,5.22,-3.48,5.52,-3.47,3.0,-3.8,3.28,-3.77,3.62,-3.97,3.98,-3.95,4.33,-3.88,4.67,-3.83,5.03,-3.75,5.3,-3.75,2.72,-4.02,3.12,-4.02,3.45,-4.22,3.78,-4.2,4.12,-4.17,4.45,-4.12,4.82,-4.08,
-1.22,-2.22,-.85,-2.22,-.48,-2.2,-.12,-2.15,.2,-2.12,.55,-2.1,.92,-2.05,-1.18,-2.5,-.82,-2.5,-.45,-2.5,-.08,-2.45,.25,-2.4,.6,-2.38,.95,-2.35,1.42,-2.25,-.98,-2.78,-.65,-2.82,-.33,-2.77,.0,-2.7,.35,-2.68,.7,-2.62,1.05,-2.6,1.4,-2.58,1.72,-2.55,2.05,-2.5,-.78,-3.1,-.42,-3.12,-.12,-3.02,.22,-3.0,.6,-2.97,.95,-2.92,1.28,-2.88,1.62,-2.83,2.02,-2.78,2.35,-2.72,-.55,-3.4,-.22,-3.3,.12,-3.3,.45,-3.27,.82,-3.22,1.12,-3.18,1.48,-3.15,1.85,-3.12,2.22,-3.08,2.55,-3.02,-.28,-3.6,.08,-3.57,.38,-3.55,.72,-3.5,1.05,-3.48,1.42,-3.42,1.72,-3.4,2.08,-3.38,2.42,-3.32,.25,-3.85,.6,-3.8,.92,-3.77,1.25,-3.72,1.62,-3.7,1.98,-3.65,2.32,-3.62,2.65,-3.58,.82,-4.05,1.15,-3.98,1.5,-3.97,1.82,-3.92,2.18,-3.92,2.52,-3.85,2.85,-3.82,1.7,-4.15,2.05,-4.18,2.38,-4.08,2.72,-4.12,-.55,-2.2,-.3,-1.55,-.62,-1.6,-.93,-1.67,.05,-1.85,.12,-1.55,1.05,-2.0,1.48,-2.08,2.02,-2.12,1.7,-2.2];

const botGene1Left=["6006500606","0706050607","5060706506","0606500060","6050607060","5060070650","0607060506","7050607006","0605060706","5060700606","6050706060","6070500605","0006070605","6050000000","0600605070","0700607060","0607060705","0607060605","6070600605","6060507060","7000605060","6060706070","0607060060","7060506060","7060500707","0607060600","6060706070","0700606507","7060605060","0607060706","7060007060","6070605000"];
const botGene2Left=["7060600760","6756076067","7067660076","6705767606","7676576066","7067667067","6767057607","6776567007","7677067676","0767667607","7676067676","7600767676","0667676760","7600700000","7060767606","7676760767","6767076767","0767676767","7067676676","7667606767","6707676067","7676067676","7067676067","6767606700","6706760766","7067670600","6707667606","7676076706","7667067670","7067606767","6770676076","6707670600"];
const botGene4Left=["8888000080","8989889898","8989899988","8788888989","9898889898","8898888989","9889988988","8999898889","8898988988","9888989888","8988989898","9889889889","8889889998","8000000008","8988898989","8989889889","9898989989","8999989898","8989898998","8989898989","8989999888","8998898999","8989888998","9898988988","8888888888","8898989889","8989898998","9898989898","8989998898","8989898889","8998998989","8989898988"];
const botGene5Left=["7700000070","7877868878","7876688778","7768778788","8887887878","7888778868","8878887877","8887878877","8787877887","7678887788","8787887687","8787888767","7877888787","6000000007","7877878878","8888878787","8888788778","8878788887","8787878877","7888878877","8888788878","8878788787","8878788778","8777887788","7707688076","7787887878","7888788878","8887887887","8787887877","8878887877","8788887877","7878787877"];

const botGene1Sparse=[2.48,3.55,3,2.24,3.3,3,2.94,3.33,3,3.3,3.19,3,2.45,2.94,3,3.55,2.71,3,3.8,2.54,3.4,4.2,2.45,3,3.85,2,3,4.4,1.95,3,4.8,1.95,3,4.15,1.52,3,5.5,.58,3,4.97,.43,3,3.76,-.27,3,5.2,-.53,3,4.4,-.96,3,5.15,-.92,3,3.06,-1.24,3,3.48,-1.28,3,4.27,-1.6,3,4.6,-2.04,3,3.24,-2.34,3.4,5.15,-2.48,3,5.6,-2.7,3,3.4,-2.73,3,4.97,-3.01,3,2.64,-3.3,3,1.9,-3.19,3,3.9,-4.02,3.4,4.94,-3.97,3.4,.73,-3.35,3.4,1.24,-3.1,3,-.09,-2.87,3.4,0,-2.98,3.4,.58,-2.82,3,1.42,-2.62,3,.15,-2.29,3.4,.52,-2.34,3,.91,-2.2,3.6,.82,-2.34,3.4,.27,-2.52,3,-.76,-2.07,3,-.9,-2.25,3,-1.2,-1.8,3,-1.06,-1.13,3,-.64,-1.1,3.4,-.85,-1.42,3,-.5,-1.42,3,-.5,-.66,3,-1.64,-.2,3,-1.8,.2,3,-3.4,.9,3];
const botGene2Sparse=[2.3,3.6,3,2.7,3.2,3,3,3,3,3.4,2.7,3,3.7,2.2,3.2,4.1,2,3,2.7,2.4,3,3.3,1.9,3,4.2,1.5,3,4.8,1.2,2.8,5.2,.8,3,4.3,.1,3,4.8,-.3,3,3.9,-.6,3,5.1,-.9,3,3.4,-1.3,3,4.2,-1.5,3,4.7,-2.1,3,3.2,-2.3,3.2,5,-2.6,3,3.6,-2.9,3,5.4,-2.8,3,4.8,-3.3,3,2.5,-3.3,3,1.5,-3.5,3,3,-3.8,3.2,4.1,-3.8,3,5,-4,3.6,1.2,-2.7,3.4,.6,-2.9,3.6,-.1,-2.4,3.6,-.6,-2,3.4,-.9,-1.6,3,-.5,-1.2,3.4,-.2,-1.8,3.4,.2,-2.1,3.4,.5,-2.5,3.4,.8,-3.1,3.6,.4,-3.5,3.4,1.9,-2.2,3.2,-1,-.8,3,-.8,-.4,3,-1.5,-.7,3,-1.2,-1.1,3,-2.8,1.1,3,-2.5,.8,3,-.3,-1.1,3,-.1,-3.1,3,1,-2,3,2.3,-1.8,3];
const botGene3Sparse=[-6.6,3.3,2.4,-5.6,3.1,2.6,-5.2,3.5,2.4,-4.5,3.7,2.6,-6.2,2.6,2.6,-5.2,2.7,2.6,-4.4,2.8,2.4,-4.6,2.4,2.8,-7,2.1,2.6,-6,2.1,2.6,-5.5,2,2.8,-4.9,2,2.6,-4,2,2.4,-6.9,1.7,2.4,-5.7,1.5,2.8,-5.1,1.6,2.6,-4.5,1.2,2.6,-6,1,2.8,-5.4,.9,2.6,-4.8,.9,2.8,-5.5,.5,2.6,-4,1,2.4,-7.7,1.9,2.4,-3.2,2.4,2.4,-3.5,2.9,2.4,2.5,3.3,2.6,-.7,-2.7,2.8];
const botGene4Sparse=[1.85,3.7,3.4,1.4,3.07,3,2.3,2.9,3.4,2.6,2.62,3.4,3.1,2.62,3,4.27,2.62,3.4,2.3,2.41,3,2.45,2.18,3,1.7,1.6,3,3.3,1.6,3.4,4.73,1.63,3,5.33,1.3,3,3.6,1.03,3.4,4.12,.85,3,5.55,.64,3,3.06,.1,3.4,3.36,.05,3.4,3.5,.14,3.4,5.48,.05,3,-1.03,.28,3.4,-1.8,.18,3.4,-1.88,-.12,3.4,-2.4,-.74,3.4,-1.94,-.92,3.4,-.58,-.57,3,.03,-.83,3.4,1.4,-.66,3,-.42,-1.15,3.4,-.73,-1.28,3.4,-1.18,-1.49,3.4,-.97,-1.6,3.4,5.1,-1.37,3.4,.48,-1.8,3.4,2.3,-1.67,3,.79,-1.95,3.4,1.09,-2.16,3.4,1.45,-2.16,3.4,2.3,-2.07,3,3.67,-2.34,3,5.48,-1.9,3.6,-.97,-2.16,3.4,-.12,-2.38,3.4,5.48,-2.6,3.6,5.7,-2.78,3.8,4.67,-2.84,3.8,5.03,-2.84,3.4,3.2,-2.6,3,2.15,-2.87,3,-1.03,-2.87,3.4,.03,-2.9,3.4,1.24,-3.1,3.4,1.94,-3.14,3.4,-.48,-3.32,3.4,3.27,-3.7,3.8,3.97,-3.62,3.4,4.64,-3.67,3.4,5.09,-3.55,3.4,4.73,-4.06,3.4,4.06,-4.26,3.6,-2.9,1.5,4,-3.6,1.2,4,-3.3,.9,4,-2.7,.8,4,-2.5,.7,4,-3.4,.5,3.6,-2.75,1.25,4,-3.05,1.6,4,-3.2,1.9,4];
const botGene5Sparse=[1.9,3.63,3.6,2.5,3.25,3,2.73,2.66,3.4,3.94,2.45,3.4,4.05,2.45,3.2,3.85,1.35,3,4.6,1.12,3,5.15,1.42,3.4,5,.73,3.4,5.58,.46,3,4.15,.28,3,3.58,.1,3.6,4.76,-.07,3,5.6,-.39,3,3.27,-.69,3.4,3.39,-.96,3.4,4.24,-1.45,3.2,5.06,-1.33,3.4,4.55,-1.8,3,2.64,-1.99,3,.18,-2.25,3.4,-1.27,-2.57,3,1.36,-2.8,3.4,.09,-2.93,3.4,2.27,-3.1,3.2,1.73,-3.32,3.2,1.36,-3.72,3.4,2.82,-3.85,3.6,2.73,-3.97,3.4,4.3,-4.02,3.4,5.06,-3.88,3.4,5.82,-2.82,3.2,5.67,-3.26,3.2,-.85,-1.38,3.4,-.97,.32,3.4,-1.82,-.1,3.4,-2.4,-.74,3.4,-3.5,1.1,3.8,-3.2,.9,3.8,-2.6,.7,3.8,-2.7,.8,3.8,-3.9,.8,3.8,-3.7,1.3,3.8,-4,1.5,3.8,-3.2,1.8,3.8,-3.5,2.2,3.8,1.65,1.55,3.4];

// ---------- titles, colour-bar ranges and tick labels
const topTitles=[["Tb927.2.5290"],["Tb927.2.4760"],["Tb927.10.10770","GCS1/HAP2"],["Tb927.9.15610","BARP"]];
const botTitles=[["Tb927.2.5290"],["Tb927.2.4760"],["Tb927.10.10770","GCS1/HAP2"],["Tb927.9.15610","BARP"],["Tb927.9.15520","BARP"]];
const topMax=[4.05,5.2,3.7,6.7], botMax=[4.8,4.8,3.8,6.4,6.1];
const topBarTicks=[[0,1,2,3],[0,1,2,3,4,5],[0,1,2,3],[0,2,4,6]];
const botBarTicks=[[0,1,2,3,4],[0,1,2,3,4],[0,1,2,3],[0,2,4,6],[0,2,4,6]];
const topXTicks=[-5,0,5], topYTicks=[-4,0,4], botXTicks=[-5,0,5], botYTicks=[-5,-2.5,0,2.5,5];

// ---------- layout (pixels)
const topOrigins=[161.5,427,687.5,958], botOrigins=[191,457,727,988,1253.3];
const topTitleX=[181,447,703,978], botTitleX=[174.5,440,711,971.5,1236.5];
const LOW="#dcdcdc", HIGH="#b03060", INK="#1a1a1a", R=1.4;
const svg=d3.select("#c");
const defs=svg.append("defs");
const grad=defs.append("linearGradient").attr("id","bar").attr("x1",0).attr("x2",0).attr("y1",1).attr("y2",0);
grad.append("stop").attr("offset","0%").attr("stop-color",LOW);
grad.append("stop").attr("offset","100%").attr("stop-color",HIGH);

const pairs=a=>d3.range(0,a.length,2).map(i=>[a[i],a[i+1]]);
const triples=a=>d3.range(0,a.length,3).map(i=>[a[i],a[i+1],a[i+2]]);
const fmt=v=>String(v).replace("-","\u2212");

function panel(o){
  const g=svg.append("g");
  const x=d3.scaleLinear().domain(o.xDom).range([o.x0+o.xPad[0],o.x0+o.xPad[1]]);
  const y=d3.scaleLinear().domain(o.yDom).range(o.yRange);
  const col=d3.scaleLinear().domain([0,o.max]).range([LOW,HIGH]).clamp(true).interpolate(d3.interpolateRgb);
  const cells=o.cells.map((c,i)=>({c,v:o.levels?(+(o.levels[Math.floor(i/10)]||"0000000000")[i%10])/9*o.max:0}));
  const upper=o.rest.map(c=>({c,v:0})).concat(cells);
  const sparse=o.sparse.map(t=>({c:[t[0],t[1]],v:t[2]}));
  const all=upper.filter(d=>d.v===0).concat(upper.filter(d=>d.v>0),sparse);
  g.append("g").selectAll("circle").data(all).join("circle")
    .attr("cx",d=>x(d.c[0])).attr("cy",d=>y(d.c[1])).attr("r",R).attr("fill",d=>col(d.v));
  const ax=g.append("g").attr("transform",`translate(0,${o.yRange[0]})`)
    .call(d3.axisBottom(x).tickValues(o.xTicks).tickSize(3).tickSizeOuter(0).tickPadding(2).tickFormat(fmt));
  const ay=g.append("g").attr("transform",`translate(${x(o.xDom[0])},0)`)
    .call(d3.axisLeft(y).tickValues(o.yTicks).tickSize(3).tickSizeOuter(0).tickPadding(1.5).tickFormat(v=>fmt(o.yFmt(v))));
  [ax,ay].forEach(a=>{a.selectAll("path,line").attr("stroke",INK).attr("stroke-width",1);
    a.selectAll("text").attr("fill",INK).style("font-size","8.8px").style("font-family","Liberation Sans");a.attr("font-family",null)});
  g.append("text").attr("x",o.x0+o.xLabel).attr("y",o.yRange[0]+22.5).attr("text-anchor","middle").attr("font-size",9.8).attr("fill",INK).text("UMAP_1");
  g.append("text").attr("transform",`translate(${x(o.xDom[0])-o.yLabel},${(o.yRange[0]+o.yRange[1])/2}) rotate(-90)`).attr("text-anchor","middle").attr("font-size",9.8).attr("fill",INK).text("UMAP_2");
  o.title.forEach((t,i)=>g.append("text").attr("x",o.titleX+(i?-1:0)).attr("y",o.titleY+i*o.titleGap).attr("text-anchor","middle").attr("font-size",11.2).attr("font-weight","bold").attr("fill","#000").text(t));
  const bx=o.x0+o.barX, bw=o.barW;
  const by=d3.scaleLinear().domain([0,o.max]).range(o.barY);
  g.append("rect").attr("x",bx).attr("y",o.barY[1]).attr("width",bw).attr("height",o.barY[0]-o.barY[1]).attr("fill","url(#bar)");
  o.barTicks.forEach(t=>{
    g.append("line").attr("x1",bx).attr("x2",bx+2).attr("y1",by(t)).attr("y2",by(t)).attr("stroke","#fff").attr("stroke-width",.6);
    g.append("line").attr("x1",bx+bw-2).attr("x2",bx+bw).attr("y1",by(t)).attr("y2",by(t)).attr("stroke","#fff").attr("stroke-width",.6);
    g.append("text").attr("x",bx+bw+4.5).attr("y",by(t)+3.2).attr("font-size",9).attr("fill","#000").text(t);
  });
}

const topUpperPairs=pairs(topUpperCells), topRest=pairs(topLowerCells.concat(topLowerInfill));
const botLeftPairs=pairs(botLeftCells), botRest=pairs(botRightCells.concat(botRightInfill));
const topLevels=[null,topGene2Upper,null,topGene4Upper];
const topSparse=[topGene1Sparse,topGene2Sparse,topGene3Sparse,topGene4Sparse];
const botLevels=[botGene1Left,botGene2Left,null,botGene4Left,botGene5Left];
const botSparse=[botGene1Sparse,botGene2Sparse,botGene3Sparse,botGene4Sparse,botGene5Sparse];

topOrigins.forEach((x0,i)=>panel({x0,xDom:[-5.644,8.712],xPad:[-74.5,115],yDom:[-6.62,7.66],yRange:[236,29],
  xTicks:topXTicks,yTicks:topYTicks,yFmt:v=>v,cells:topUpperPairs,rest:topRest,levels:topLevels[i],sparse:triples(topSparse[i]),
  max:topMax[i],title:topTitles[i],titleX:topTitleX[i],titleY:23,titleGap:12,xLabel:19.5,yLabel:23,
  barX:124.6,barW:11,barY:[162.3,107.7],barTicks:topBarTicks[i]}));
botOrigins.forEach((x0,i)=>panel({x0,xDom:[-9.79,6.79],xPad:[-107.7,74.7],yDom:[-5.48,5.49],yRange:[512.3,306],
  xTicks:botXTicks,yTicks:botYTicks,yFmt:v=>v.toFixed(1),cells:botLeftPairs,rest:botRest,levels:botLevels[i],sparse:triples(botSparse[i]),
  max:botMax[i],title:botTitles[i],titleX:botTitleX[i],titleY:299,titleGap:14,xLabel:-16.5,yLabel:28,
  barX:84.4,barW:10.5,barY:[438.7,384],barTicks:botBarTicks[i]}));

// row labels
const rowLabels=[["GTF Tritrypdb",33,118,24.5],["GTF new",33,393.5,24]];
svg.selectAll("text.row").data(rowLabels).join("text").attr("class","row")
  .attr("transform",d=>`translate(${d[1]},${d[2]}) rotate(-90)`).attr("text-anchor","middle")
  .style("font-family","Lato").attr("font-size",d=>d[3]).attr("fill","#000").text(d=>d[0]);
</script></body></html>
